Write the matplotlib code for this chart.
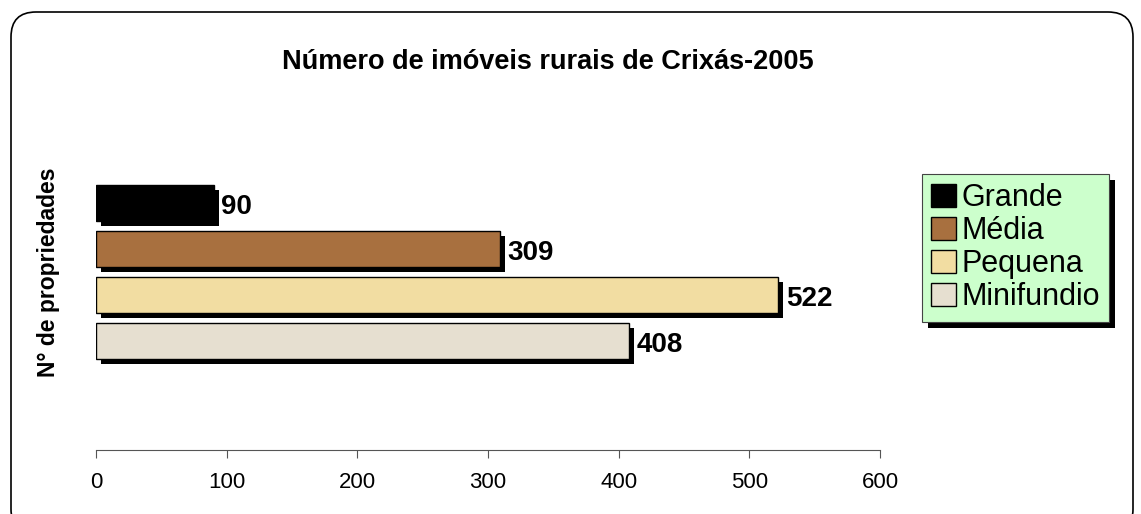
import matplotlib
matplotlib.use('Agg')

import matplotlib.pyplot as plt
from matplotlib.patches import Patch, Rectangle, FancyBboxPatch

plt.rcParams['font.family'] = ['Liberation Sans', 'DejaVu Sans']

# dados
categorias = ['Grande', 'Média', 'Pequena', 'Minifundio']
valores = [90, 309, 522, 408]
cores = ['#000000', '#A8703F', '#F2DDA2', '#E6DFD0']

W, H = 1141, 514
fig = plt.figure(figsize=(W / 100, H / 100), dpi=100)

# moldura arredondada (cortada embaixo)
moldura = FancyBboxPatch((11, -20), 1122, 522, boxstyle='round,pad=0,rounding_size=25',
                         transform=None, facecolor='none', edgecolor='black',
                         linewidth=1.2, zorder=-1)
fig.patches.append(moldura)

ax = fig.add_axes([96 / W, 1 - 450 / H, 784 / W, 280 / H])
ax.patch.set_alpha(0)

y = list(range(len(categorias)))
px_x = 784 / 600.0   # pixels por unidade
dx = 5 / px_x
dy = 5 / 46.0

# sombras
ax.barh([v + dy for v in y], valores, left=dx, height=0.8, color='black', zorder=2)
# barras
ax.barh(y, valores, height=0.8, color=cores, edgecolor='black', linewidth=1.0, zorder=3)

for yi, v in zip(y, valores):
    ax.text(v + dx + 2, yi + 0.08, str(v), va='center', ha='left', fontsize=20,
            fontweight='bold', zorder=4)

ax.set_xlim(0, 600)
ax.set_ylim(5.37, -0.72)
ax.set_xticks(range(0, 601, 100))
ax.set_yticks([])
for s in ['top', 'right', 'left']:
    ax.spines[s].set_visible(False)
ax.spines['bottom'].set_color('#555555')
ax.tick_params(axis='x', direction='out', length=6, color='#555555', labelsize=16, pad=10)

ax.set_ylabel('N° de propriedades', fontsize=16.5, fontweight='bold')
ax.yaxis.set_label_coords(-0.046, 1 - (272 - 170) / 280)

fig.text(0.48, 0.88, 'Número de imóveis rurais de Crixás-2005', ha='center', va='center',
         fontsize=19.5, fontweight='bold')

handles = [Patch(facecolor=c, edgecolor='black', linewidth=1.0) for c in cores]
leg = fig.legend(handles, categorias, loc='upper left', bbox_to_anchor=(922 / W, 1 - 174 / H),
                 fontsize=22, frameon=True, fancybox=False, facecolor='#CCFFCC', edgecolor='#444444',
                 framealpha=1, handlelength=0.8, handleheight=0.8, handletextpad=0.2,
                 labelspacing=0.1, borderpad=0.3, borderaxespad=0)
leg.get_frame().set_linewidth(0.8)
leg.set_zorder(5)

fig.canvas.draw()
bb = leg.get_window_extent()
sombra = Rectangle((bb.x0 + 6, bb.y0 - 6), bb.width, bb.height, transform=None,
                   facecolor='black', edgecolor='none', zorder=4)
fig.patches.append(sombra)

fig.savefig('out.png', dpi=100)
